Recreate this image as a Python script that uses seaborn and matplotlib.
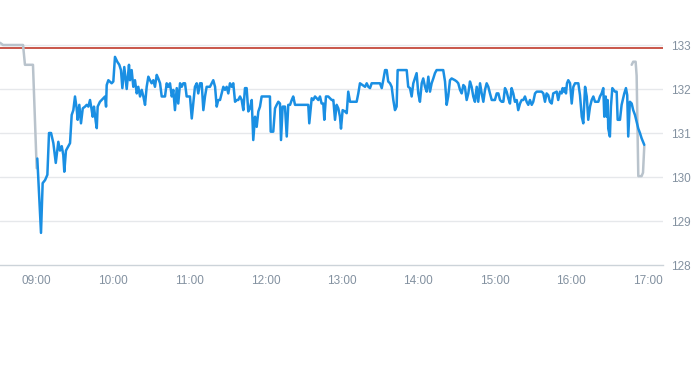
import matplotlib
matplotlib.use("Agg")
import matplotlib.pyplot as plt
import seaborn as sns
import pandas as pd

# ---- data (minutes after 09:00, price) ----
blue_min = [0.7, 3.6, 4.9, 6.8, 8.6, 9.9, 11.5, 13.3, 15.2, 17.2, 18.5, 19.9, 21.1, 21.9, 23.2, 25.1,
            26.4, 27.7, 29.0, 30.3, 31.6, 32.4, 33.7, 35.0, 36.4, 38.2, 39.5, 40.8, 42.1, 43.2, 44.2,
            45.2, 46.6, 47.4, 48.1, 49.9, 52.5, 53.9, 54.7, 55.2, 56.5, 59.1, 60.4, 61.7, 63.5, 65.1,
            66.4, 67.5, 69.0, 70.9, 72.7, 73.5, 74.8, 76.1, 77.4, 78.8, 80.0, 81.4, 82.7, 84.0, 85.3,
            86.6, 87.9, 89.2, 90.5, 91.8, 93.1, 94.5, 95.7, 97.1, 98.4, 99.7, 101.0, 102.3, 103.6,
            104.9, 106.3, 107.5, 108.8, 110.2, 111.4, 112.8, 114.1, 115.4, 116.7, 118.0, 119.3, 120.6,
            122.0, 123.2, 124.5, 125.9, 127.1, 128.5, 129.8, 131.1, 132.4, 133.7, 135.0, 136.3, 137.7,
            138.9, 140.3, 141.6, 142.8, 144.2, 146.8, 148.1, 149.4, 150.7, 152.0, 153.4, 154.6, 156.0,
            157.3, 158.5, 159.9, 161.2, 162.5, 163.8, 165.1, 166.4, 167.7, 169.1, 170.3, 171.7, 173.0,
            174.3, 175.6, 176.9, 183.4, 184.0, 186.0, 187.4, 188.7, 190.0, 191.3, 192.1, 193.4, 195.2,
            196.6, 197.8, 199.2, 200.5, 201.7, 203.1, 213.5, 214.3, 216.2, 217.4, 218.8, 221.4, 222.7,
            224.0, 225.3, 226.1, 227.4, 229.2, 230.6, 231.9, 233.2, 234.5, 235.8, 237.1, 238.4, 239.2,
            240.5, 242.3, 243.7, 244.9, 246.3, 251.5, 252.8, 254.1, 258.1, 259.4, 260.7, 262.0, 263.3,
            269.8, 271.2, 272.4, 273.8, 275.1, 276.3, 277.7, 279.0, 280.3, 281.6, 282.9, 283.7, 290.8,
            292.0, 293.4, 294.7, 296.0, 298.6, 299.9, 301.2, 302.6, 303.8, 305.2, 306.5, 307.8, 309.1,
            310.4, 311.7, 313.0, 314.3, 319.5, 320.9, 322.2, 323.4, 324.8, 326.1, 328.7, 330.1, 331.3,
            332.7, 334.0, 335.3, 336.5, 337.9, 339.2, 340.5, 341.8, 343.1, 344.4, 345.8, 347.0, 348.4,
            349.7, 351.0, 352.3, 353.6, 354.9, 356.2, 357.6, 360.1, 361.5, 362.8, 364.1, 365.4, 366.7,
            368.0, 369.3, 370.6, 371.9, 373.2, 374.5, 375.8, 377.2, 378.4, 379.8, 381.1, 382.4, 383.7,
            385.0, 386.3, 387.6, 389.0, 390.2, 391.6, 392.9, 396.8, 398.1, 399.4, 400.7, 402.0, 403.3,
            404.7, 405.9, 408.6, 409.8, 411.2, 412.5, 413.3, 414.3, 415.1, 415.9, 416.7, 417.7, 419.1,
            420.4, 421.7, 423.0, 425.6, 426.9, 428.3, 429.5, 430.9, 432.2, 433.4, 434.8, 436.1, 437.4,
            438.7, 441.3, 442.6, 443.9, 445.2, 446.0, 447.1, 447.9, 448.6, 449.1, 450.4, 451.2, 452.3,
            454.4, 455.7, 456.5, 458.3, 459.6, 461.7, 463.0, 464.0, 464.8, 466.1, 467.5, 468.7, 470.1,
            471.4, 472.7, 474.0, 475.3, 477.4]
blue_val = [130.42, 128.73, 129.86, 129.93, 130.05, 131.0, 131.0, 130.77, 130.32, 130.8, 130.6, 130.7,
            130.5, 130.12, 130.6, 130.7, 130.77, 131.41, 131.52, 131.83, 131.56, 131.3, 131.64, 131.22,
            131.56, 131.6, 131.64, 131.6, 131.75, 131.56, 131.37, 131.6, 131.26, 131.11, 131.6, 131.71,
            131.79, 131.83, 131.6, 132.09, 132.2, 132.13, 132.17, 132.73, 132.62, 132.55, 132.43,
            132.02, 132.5, 132.0, 132.55, 132.2, 132.43, 132.05, 132.2, 131.9, 132.05, 131.83, 131.98,
            131.83, 131.64, 132.05, 132.28, 132.2, 132.13, 132.2, 132.05, 132.32, 132.24, 132.13,
            131.83, 131.83, 131.83, 132.13, 132.05, 132.13, 131.83, 131.98, 131.52, 132.02, 131.67,
            132.13, 132.05, 132.13, 132.13, 131.83, 131.83, 131.83, 131.33, 131.67, 132.05, 132.13,
            131.9, 132.13, 132.13, 131.52, 131.83, 132.05, 132.05, 132.05, 132.13, 132.2, 132.05,
            131.6, 131.75, 131.75, 132.05, 131.98, 132.05, 131.9, 132.13, 132.05, 132.13, 131.71,
            131.75, 131.75, 131.83, 131.75, 131.52, 132.02, 132.02, 131.49, 131.56, 131.75, 130.84,
            131.37, 131.14, 131.49, 131.6, 131.83, 131.83, 131.03, 131.03, 131.56, 131.64, 131.71,
            131.67, 130.84, 131.6, 131.6, 130.92, 131.64, 131.64, 131.75, 131.83, 131.64, 131.64,
            131.22, 131.79, 131.75, 131.83, 131.75, 131.83, 131.67, 131.67, 131.3, 131.83, 131.83,
            131.79, 131.75, 131.75, 131.3, 131.64, 131.56, 131.37, 131.1, 131.52, 131.49, 131.45,
            131.94, 131.71, 131.71, 131.9, 132.13, 132.05, 132.13, 132.05, 132.02, 132.13, 132.13,
            132.02, 132.2, 132.43, 132.43, 132.17, 132.13, 132.05, 131.75, 131.52, 131.6, 132.43,
            132.43, 132.05, 132.02, 131.83, 132.13, 132.36, 131.9, 131.71, 132.13, 132.24, 132.05,
            131.94, 132.28, 131.94, 132.13, 132.24, 132.36, 132.43, 132.43, 132.17, 131.64, 131.83,
            132.2, 132.24, 132.2, 132.17, 132.13, 131.98, 131.9, 132.09, 132.05, 131.75, 131.9, 132.17,
            132.05, 131.83, 131.71, 132.05, 131.71, 132.13, 131.9, 131.71, 131.98, 132.13, 132.05,
            131.9, 131.75, 131.75, 131.9, 131.9, 131.75, 131.71, 131.71, 132.02, 131.94, 131.79,
            131.67, 132.02, 131.9, 131.71, 131.75, 131.52, 131.67, 131.75, 131.75, 131.83, 131.71,
            131.64, 131.75, 131.64, 131.71, 131.9, 131.94, 131.94, 131.9, 131.71, 131.9, 131.86,
            131.71, 131.67, 131.9, 131.94, 131.75, 131.94, 131.9, 132.02, 131.94, 132.02, 131.9,
            132.13, 132.2, 132.13, 131.67, 132.05, 132.13, 132.13, 131.86, 131.37, 131.22, 132.05,
            131.83, 131.3, 131.6, 131.75, 131.83, 131.71, 131.71, 131.83, 131.9, 132.02, 131.37,
            131.83, 131.37, 131.75, 131.1, 130.92, 131.6, 132.02, 131.94, 131.94, 131.3, 131.3, 131.64,
            131.9, 132.02, 131.86, 130.92, 131.71, 131.67, 131.52, 131.41, 131.26, 131.1, 131.0,
            130.88, 130.73]

pre_min = [-28.6, -26.2, -10.5, -9.0, -2.7, 0.2]
pre_val = [133.05, 133.0, 133.0, 132.55, 132.55, 130.2]

post_min = [467.5, 468.7, 470.6, 471.4, 472.7, 475.3, 476.4, 477.4]
post_val = [132.55, 132.62, 132.62, 132.3, 130.02, 130.02, 130.1, 130.7]

ref_price = 132.93
y_ticks = [128, 129, 130, 131, 132, 133]
x_tick_labels = ["09:00", "10:00", "11:00", "12:00", "13:00", "14:00", "15:00", "16:00", "17:00"]

# ---- plotting ----
sns.set_style("white")
plt.rcParams['font.family'] = ['Liberation Sans', 'DejaVu Sans']

fig = plt.figure(figsize=(6.93, 3.65), dpi=100)
ax = fig.add_axes([0.0, 1 - 265 / 365, 663 / 693, 225 / 365])

base = 540
blue_df = pd.DataFrame({"t": [base + m for m in blue_min], "v": blue_val})
pre_df = pd.DataFrame({"t": [base + m for m in pre_min], "v": pre_val})
post_df = pd.DataFrame({"t": [base + m for m in post_min], "v": post_val})

grid_c = "#e6e8eb"
for yv in y_ticks[1:]:
    ax.axhline(yv, color=grid_c, lw=1, zorder=0)

ax.axhline(ref_price, color="#c0392b", lw=1.2, zorder=2)

sns.lineplot(data=pre_df, x="t", y="v", ax=ax, color="#b9c3cc", lw=1.8, zorder=3)
sns.lineplot(data=post_df, x="t", y="v", ax=ax, color="#b9c3cc", lw=1.8, zorder=3)
sns.lineplot(data=blue_df, x="t", y="v", ax=ax, color="#1a8fe3", lw=1.8, zorder=4)

ax.set_xlim(base - 28.6, base + 492.1)
ax.set_ylim(128, 128 + 225 / 44)

xt = [base + 60 * i for i in range(len(x_tick_labels))]
ax.set_xticks(xt)
ax.set_xticklabels(x_tick_labels)
ax.set_yticks(y_ticks)
ax.set_yticklabels([str(v) for v in y_ticks])
ax.yaxis.tick_right()

ax.tick_params(axis="x", colors="#ccd3d9", length=5, width=1, pad=2, labelsize=8.5,
               labelcolor="#8391a0", direction="out")
ax.tick_params(axis="y", length=0, pad=6, labelsize=8.5, labelcolor="#8391a0")

for s in ["top", "left", "right"]:
    ax.spines[s].set_visible(False)
ax.spines["bottom"].set_color("#ccd3d9")
ax.spines["bottom"].set_linewidth(1)

ax.set_xlabel("")
ax.set_ylabel("")
ax.patch.set_alpha(0)

fig.savefig("out.png", dpi=100)
